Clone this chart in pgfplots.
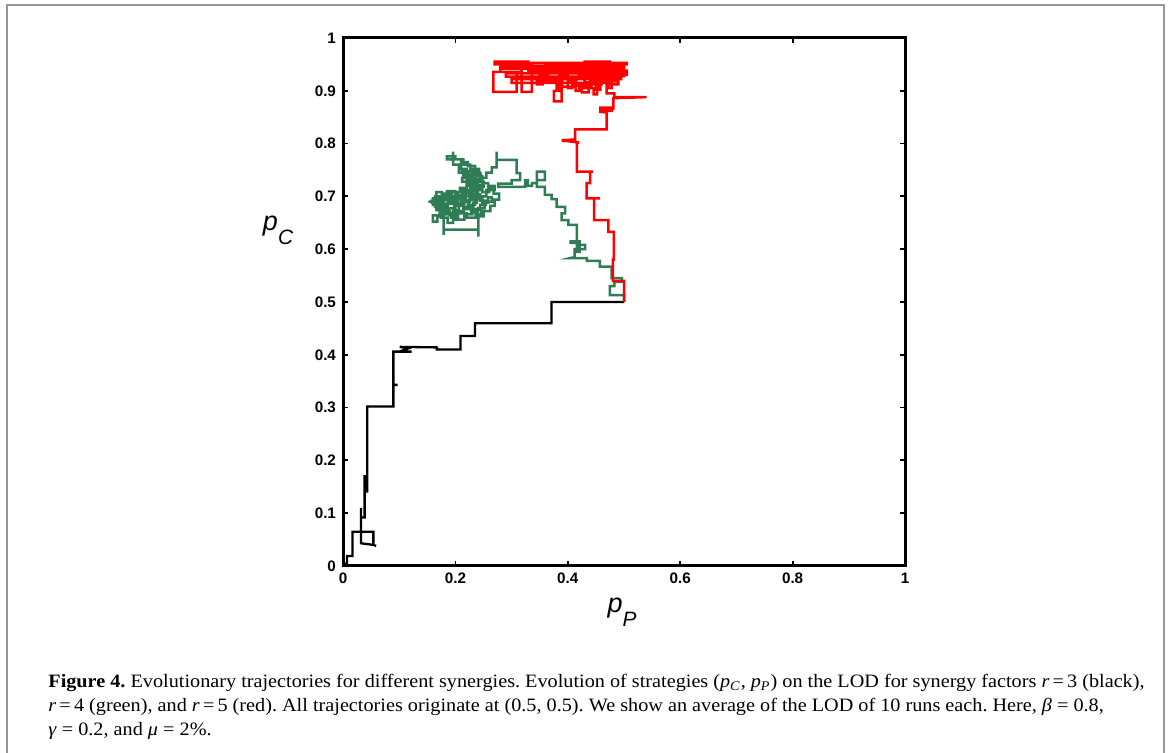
\documentclass[border=0pt]{standalone}
\usepackage{fontspec}
\setmainfont{Liberation Serif}[FakeStretch=1.07]
\newfontfamily\axisfont{Liberation Sans}
\usepackage{pgfplots}
\pgfplotsset{compat=1.18}
\definecolor{trajgreen}{RGB}{46,125,84}
\definecolor{framegray}{RGB}{150,150,150}
\begin{document}
\frenchspacing
\begin{tikzpicture}[x=1pt,y=1pt]
\path[use as bounding box] (0,0) rectangle (585,376.5);
\draw[framegray, line width=1.2pt] (3.5,-2) -- (3.5,374) -- (582,374) -- (582,-2);
\begin{axis}[
  at={(171.5pt,93.5pt)}, anchor=south west,
  scale only axis, width=281pt, height=264pt,
  xmin=0, xmax=1, ymin=0, ymax=1,
  xtick={0,0.2,0.4,0.6,0.8,1},
  ytick={0,0.1,0.2,0.3,0.4,0.5,0.6,0.7,0.8,0.9,1},
  tick align=inside,
  major tick length=2.5pt,
  axis line style={line width=1.5pt},
  every tick/.style={line width=0.9pt, black},
  /pgf/number format/assume math mode=true,
  ticklabel style={font=\axisfont\bfseries\fontsize{7.6}{9}\selectfont},
  clip=false,
]
% r = 3 (black)
\addplot[black, line width=1.15pt] coordinates {
(0.5,0.5)(0.371,0.5)(0.371,0.4596)(0.235,0.4596)(0.235,0.4356)(0.209,0.4356)
(0.209,0.410)(0.167,0.410)(0.167,0.414)(0.101,0.415)(0.116,0.412)(0.103,0.407)
(0.122,0.406)(0.0896,0.406)(0.0896,0.343)(0.097,0.343)(0.0896,0.343)(0.0896,0.302)
(0.0433,0.302)(0.0433,0.141)(0.0385,0.141)(0.0385,0.172)(0.0385,0.092)(0.032,0.092)
(0.032,0.110)(0.032,0.043)(0.054,0.040)(0.059,0.038)(0.054,0.040)(0.054,0.065)
(0.017,0.065)(0.017,0.019)(0.007,0.019)(0.007,0.006)(0.001,0.001)
};
% r = 4 (green)
\addplot[trajgreen, line width=1.25pt] coordinates {
(0.5,0.5)(0.5,0.513)(0.475,0.513)(0.475,0.530)(0.483,0.530)(0.483,0.538)(0.496,0.538)
(0.496,0.545)(0.478,0.545)(0.478,0.567)(0.457,0.567)(0.457,0.578)(0.434,0.578)
(0.434,0.583)(0.404,0.583)(0.412,0.585)(0.412,0.600)(0.431,0.600)(0.431,0.608)
(0.416,0.608)(0.416,0.595)(0.421,0.595)(0.421,0.615)(0.405,0.615)(0.405,0.612)
(0.416,0.612)(0.416,0.646)(0.401,0.646)(0.401,0.655)(0.389,0.655)(0.389,0.668)
(0.395,0.668)(0.395,0.680)(0.380,0.680)(0.380,0.695)(0.371,0.695)(0.371,0.703)
(0.359,0.703)(0.359,0.718)(0.345,0.718)(0.345,0.731)(0.359,0.731)(0.359,0.747)
(0.345,0.747)(0.345,0.725)(0.336,0.725)(0.336,0.720)(0.329,0.720)(0.329,0.731)
(0.324,0.731)(0.324,0.718)(0.276,0.718)(0.276,0.724)(0.300,0.724)(0.300,0.731)
(0.315,0.731)(0.315,0.744)(0.309,0.744)(0.309,0.769)(0.2735,0.769)(0.2735,0.785)
(0.2735,0.755)(0.265,0.755)(0.265,0.745)(0.255,0.745)(0.255,0.735)(0.245,0.735)
(0.245,0.742)(0.232,0.742)(0.232,0.730)(0.240,0.730)(0.240,0.722)(0.225,0.722)
(0.225,0.738)(0.218,0.738)(0.218,0.748)(0.235,0.748)(0.235,0.758)(0.222,0.758)
(0.222,0.765)(0.210,0.765)(0.210,0.752)(0.214,0.752)(0.214,0.740)(0.228,0.740)
(0.228,0.728)(0.250,0.728)(0.250,0.718)(0.236,0.718)(0.236,0.726)(0.220,0.726)
(0.220,0.732)(0.244,0.732)(0.244,0.745)(0.230,0.745)(0.230,0.735)(0.212,0.735)
(0.212,0.728)(0.226,0.728)(0.226,0.716)(0.248,0.716)(0.248,0.708)(0.260,0.708)
(0.260,0.720)(0.270,0.720)(0.270,0.712)(0.255,0.712)(0.255,0.700)(0.240,0.700)
(0.240,0.710)(0.228,0.710)(0.228,0.700)(0.215,0.700)(0.215,0.708)(0.205,0.708)
(0.205,0.696)(0.192,0.696)(0.192,0.705)(0.180,0.705)(0.180,0.695)(0.170,0.695)
(0.170,0.688)(0.158,0.688)(0.158,0.692)(0.175,0.692)(0.175,0.680)(0.186,0.680)
(0.186,0.690)(0.198,0.690)(0.198,0.682)(0.210,0.682)(0.210,0.692)(0.222,0.692)
(0.222,0.684)(0.235,0.684)(0.235,0.695)(0.248,0.695)(0.248,0.688)(0.258,0.688)
(0.258,0.698)(0.265,0.698)(0.265,0.690)(0.252,0.690)(0.252,0.678)(0.240,0.678)
(0.240,0.670)(0.228,0.670)(0.228,0.680)(0.215,0.680)(0.215,0.672)(0.200,0.672)
(0.200,0.678)(0.188,0.678)(0.188,0.670)(0.176,0.670)(0.176,0.662)(0.168,0.662)
(0.168,0.652)(0.160,0.652)(0.160,0.664)(0.172,0.664)(0.172,0.676)(0.182,0.676)
(0.182,0.686)(0.195,0.686)(0.195,0.700)(0.185,0.700)(0.185,0.710)(0.200,0.710)
(0.200,0.702)(0.212,0.702)(0.212,0.690)(0.226,0.690)(0.226,0.698)(0.238,0.698)
(0.238,0.688)(0.232,0.688)(0.232,0.676)(0.246,0.676)(0.246,0.666)(0.236,0.666)
(0.236,0.660)(0.220,0.660)(0.220,0.668)(0.205,0.668)(0.205,0.660)(0.192,0.660)
(0.192,0.668)(0.179,0.668)(0.179,0.627)(0.179,0.637)(0.241,0.637)(0.241,0.624)
(0.241,0.662)(0.250,0.662)(0.250,0.672)(0.262,0.672)(0.262,0.682)(0.270,0.682)
(0.270,0.694)(0.278,0.694)(0.278,0.705)(0.268,0.705)(0.268,0.716)(0.258,0.716)
(0.258,0.725)(0.248,0.725)(0.248,0.738)(0.238,0.738)(0.238,0.750)(0.226,0.750)
(0.226,0.760)(0.214,0.760)(0.214,0.770)(0.200,0.770)(0.200,0.776)(0.185,0.776)
(0.185,0.770)(0.196,0.770)(0.196,0.785)(0.196,0.760)(0.206,0.760)(0.206,0.745)
(0.220,0.745)(0.220,0.720)(0.232,0.720)(0.232,0.712)(0.218,0.712)(0.218,0.696)
(0.205,0.696)(0.205,0.686)(0.190,0.686)(0.190,0.694)(0.176,0.694)(0.176,0.700)
(0.164,0.700)(0.164,0.690)(0.152,0.690)(0.164,0.690)(0.164,0.680)(0.178,0.680)
(0.178,0.672)(0.190,0.672)(0.190,0.664)(0.200,0.664)(0.200,0.684)(0.214,0.684)
(0.214,0.676)(0.224,0.676)(0.224,0.694)(0.234,0.694)(0.234,0.704)(0.244,0.704)
(0.244,0.692)(0.254,0.692)(0.254,0.684)(0.244,0.684)(0.244,0.674)(0.230,0.674)
(0.230,0.666)(0.216,0.666)(0.216,0.656)(0.196,0.656)(0.196,0.650)(0.186,0.650)
(0.186,0.660)(0.174,0.660)(0.174,0.674)(0.166,0.674)(0.166,0.684)(0.180,0.684)
(0.180,0.698)(0.194,0.698)(0.194,0.708)(0.208,0.708)(0.208,0.716)(0.220,0.716)
(0.220,0.706)(0.230,0.706)(0.230,0.716)(0.240,0.716)(0.240,0.726)(0.230,0.726)
(0.230,0.740)(0.242,0.740)(0.242,0.752)(0.230,0.752)(0.230,0.742)(0.220,0.742)
(0.220,0.752)(0.212,0.752)(0.212,0.744)(0.224,0.744)(0.224,0.734)(0.236,0.734)
(0.236,0.722)(0.246,0.722)(0.246,0.712)(0.236,0.712)(0.236,0.702)(0.224,0.702)
(0.224,0.712)(0.212,0.712)(0.212,0.698)(0.200,0.698)(0.200,0.690)(0.186,0.690)
(0.186,0.700)(0.176,0.700)(0.176,0.708)(0.166,0.708)(0.166,0.696)(0.160,0.696)
(0.160,0.684)(0.170,0.684)(0.170,0.678)(0.184,0.678)(0.184,0.666)(0.196,0.666)
(0.196,0.674)(0.206,0.674)(0.206,0.686)(0.218,0.686)
};
% r = 5 (red)
\addplot[red, line width=1.25pt] coordinates {
(0.5,0.5)(0.5,0.540)(0.480,0.540)(0.480,0.580)(0.482,0.580)(0.482,0.633)(0.472,0.633)
(0.472,0.655)(0.4466,0.655)(0.4466,0.696)(0.457,0.696)(0.4336,0.696)(0.4336,0.725)
(0.4395,0.725)(0.4395,0.747)(0.445,0.747)(0.416,0.747)(0.416,0.802)(0.420,0.802)
(0.389,0.806)(0.413,0.808)(0.413,0.827)(0.469,0.827)(0.469,0.859)(0.458,0.860)
(0.458,0.868)(0.478,0.868)(0.478,0.862)(0.462,0.862)(0.462,0.866)(0.481,0.866)
(0.481,0.886)(0.540,0.888)(0.483,0.888)(0.483,0.895)(0.469,0.895)(0.469,0.914)
(0.469,0.920)(0.440,0.920)(0.440,0.925)(0.490,0.925)(0.490,0.930)(0.505,0.930)
(0.505,0.933)(0.450,0.933)(0.450,0.940)(0.500,0.940)(0.500,0.944)(0.420,0.944)
(0.420,0.938)(0.470,0.938)(0.470,0.928)(0.430,0.928)(0.430,0.916)(0.442,0.916)
(0.442,0.905)(0.425,0.905)(0.425,0.897)(0.437,0.897)(0.437,0.910)(0.415,0.910)
(0.415,0.922)(0.460,0.922)(0.460,0.912)(0.450,0.912)(0.450,0.902)(0.458,0.902)
(0.458,0.918)(0.490,0.918)(0.490,0.912)(0.470,0.912)(0.470,0.935)(0.395,0.935)
(0.395,0.948)(0.480,0.948)(0.480,0.952)(0.360,0.952)(0.360,0.940)(0.400,0.940)
(0.400,0.930)(0.385,0.930)(0.385,0.900)(0.375,0.900)(0.375,0.880)(0.389,0.880)
(0.389,0.905)(0.380,0.905)(0.380,0.918)(0.350,0.918)(0.350,0.930)(0.365,0.930)
(0.365,0.945)(0.300,0.945)(0.300,0.950)(0.330,0.950)(0.330,0.955)(0.270,0.955)
(0.270,0.950)(0.336,0.950)(0.336,0.898)(0.318,0.898)(0.318,0.950)(0.318,0.936)
(0.309,0.936)(0.2675,0.936)(0.2675,0.898)(0.309,0.898)(0.309,0.936)(0.280,0.936)
(0.280,0.942)(0.350,0.942)(0.350,0.925)(0.345,0.925)(0.410,0.925)(0.410,0.918)
(0.400,0.918)(0.400,0.905)(0.408,0.905)(0.408,0.912)(0.445,0.912)(0.445,0.935)
(0.500,0.935)(0.500,0.928)(0.470,0.928)(0.470,0.945)(0.495,0.945)(0.495,0.950)
(0.430,0.950)(0.430,0.955)(0.475,0.955)(0.475,0.942)(0.420,0.942)(0.420,0.932)
(0.440,0.932)(0.440,0.952)(0.410,0.952)(0.410,0.945)(0.455,0.945)(0.455,0.925)
(0.478,0.925)(0.478,0.905)(0.472,0.905)(0.472,0.915)(0.300,0.915)(0.300,0.922)
(0.495,0.922)(0.495,0.927)(0.290,0.927)(0.290,0.933)(0.505,0.933)(0.505,0.938)
(0.330,0.938)(0.330,0.943)(0.500,0.943)(0.500,0.947)(0.280,0.947)(0.280,0.953)
(0.505,0.953)(0.505,0.950)(0.440,0.950)(0.440,0.930)(0.455,0.930)(0.455,0.905)
(0.446,0.905)(0.446,0.893)(0.452,0.893)(0.452,0.915)(0.420,0.915)(0.420,0.900)
(0.414,0.900)(0.414,0.908)(0.390,0.908)(0.390,0.925)(0.345,0.925)(0.345,0.912)
(0.355,0.912)(0.355,0.935)(0.480,0.935)(0.480,0.940)(0.400,0.940)
};
\end{axis}
\node[anchor=center, inner sep=0pt] at (139,261.5)
  {\axisfont\itshape\fontsize{13.5}{14}\selectfont p\raisebox{-7pt}{\fontsize{10.4}{11}\selectfont C}};
\node[anchor=center, inner sep=0pt] at (311,70.5)
  {\axisfont\itshape\fontsize{13.5}{14}\selectfont p\raisebox{-7pt}{\fontsize{10.4}{11}\selectfont P}};
\begin{scope}[every node/.style={anchor=base west, inner sep=0pt, font=\fontsize{9.45}{11}\selectfont}]
\node at (24,32.5) {\textbf{Figure 4.} Evolutionary trajectories for different synergies. Evolution of strategies (\textit{p}\textsubscript{\textit{C}}, \textit{p}\textsubscript{\textit{P}}) on the LOD for synergy factors \textit{r}\,=\,3 (black),};
\node at (24,20.5) {\textit{r}\,=\,4 (green), and \textit{r}\,=\,5 (red). All trajectories originate at (0.5, 0.5). We show an average of the LOD of 10 runs each. Here, \textit{β} = 0.8,};
\node at (24,8.5) {\textit{γ} = 0.2, and \textit{μ} = 2\%.};
\end{scope}
\end{tikzpicture}
\end{document}
